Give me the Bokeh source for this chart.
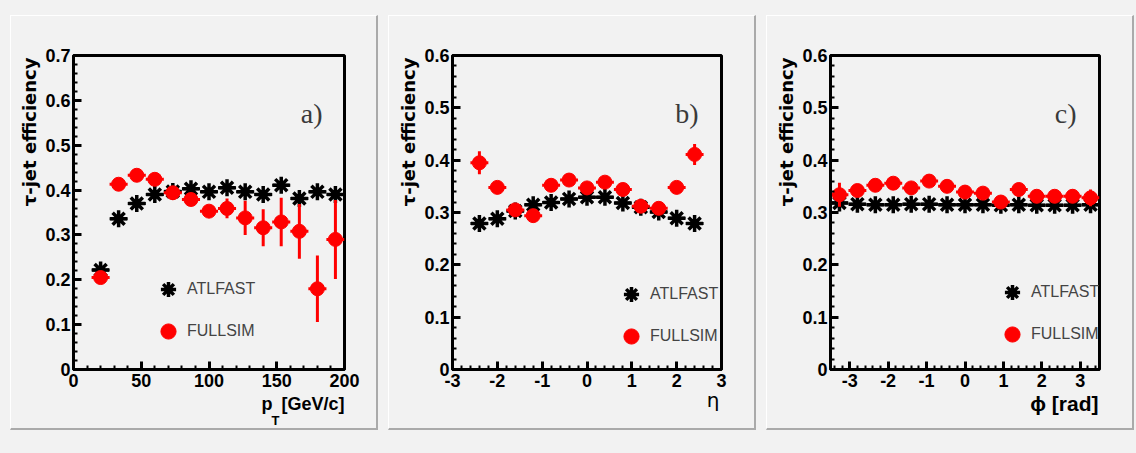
from bokeh.plotting import figure
from bokeh.layouts import row
from bokeh.models import (Range1d, SingleIntervalTicker, CustomJSTickFormatter, Label,
                          Legend, LegendItem, Title)
from bokeh.embed import file_html
from bokeh.resources import INLINE

# ---------------- data ----------------
pt_centers = [20.0, 33.3, 46.7, 60.0, 73.3, 86.7, 100.0, 113.3, 126.7, 140.0, 153.3, 166.7, 180.0, 193.3]
pt_half_bin = 6.67
pt_atlfast = [0.222, 0.336, 0.370, 0.390, 0.397, 0.403, 0.396, 0.405, 0.396, 0.390, 0.411, 0.381, 0.396, 0.390]
pt_fullsim = [0.205, 0.413, 0.433, 0.424, 0.394, 0.379, 0.353, 0.359, 0.338, 0.316, 0.329, 0.308, 0.180, 0.290]
pt_fullsim_err = [0.006, 0.008, 0.008, 0.009, 0.010, 0.011, 0.013, 0.022, 0.038, 0.041, 0.054, 0.061, 0.074, 0.088]

eta_centers = [-2.4, -2.0, -1.6, -1.2, -0.8, -0.4, 0.0, 0.4, 0.8, 1.2, 1.6, 2.0, 2.4]
eta_half_bin = 0.2
eta_atlfast = [0.279, 0.288, 0.303, 0.315, 0.319, 0.326, 0.329, 0.329, 0.318, 0.310, 0.301, 0.289, 0.279]
eta_fullsim = [0.395, 0.348, 0.305, 0.294, 0.352, 0.362, 0.347, 0.358, 0.344, 0.312, 0.308, 0.348, 0.411]
eta_fullsim_err = [0.022, 0.012, 0.010, 0.010, 0.010, 0.010, 0.010, 0.010, 0.010, 0.010, 0.010, 0.012, 0.020]

phi_centers = [-3.267, -2.8, -2.333, -1.867, -1.4, -0.933, -0.467, 0.0, 0.467, 0.933, 1.4, 1.867, 2.333, 2.8, 3.267]
phi_half_bin = 0.233
phi_atlfast = [0.318, 0.316, 0.315, 0.315, 0.316, 0.316, 0.315, 0.315, 0.315, 0.314, 0.315, 0.314, 0.314, 0.314, 0.315]
phi_fullsim = [0.334, 0.342, 0.352, 0.356, 0.347, 0.360, 0.350, 0.339, 0.337, 0.320, 0.344, 0.331, 0.331, 0.331, 0.328]
phi_fullsim_err = [0.023, 0.012, 0.011, 0.011, 0.011, 0.011, 0.011, 0.011, 0.011, 0.011, 0.012, 0.012, 0.012, 0.013, 0.016]

series_names = ["ATLFAST", "FULLSIM"]
panel_tags = ["a)", "b)", "c)"]
y_title = "τ-jet efficiency"

BG = "#f2f2f2"
SANS = "Liberation Sans"
SERIF = "Liberation Serif"
RED = "#ff0000"


def make_panel(centers, half, atl, full, full_err, xr, yr, x_int, tag, legend_xy, mb_left, mb_right, tag_x):
    p = figure(width=368, height=415, x_range=Range1d(*xr), y_range=Range1d(*yr),
               output_backend="svg", toolbar_location=None,
               min_border_left=mb_left, min_border_right=mb_right,
               min_border_top=39, min_border_bottom=62,
               background_fill_color=BG, border_fill_color=BG)
    p.grid.visible = False
    p.outline_line_color = "black"
    p.outline_line_width = 3

    for ax in (p.xaxis[0], p.yaxis[0]):
        ax.axis_line_width = 3
        ax.major_tick_in = 8
        ax.major_tick_out = 0
        ax.minor_tick_in = 4
        ax.minor_tick_out = 0
        ax.major_tick_line_width = 3
        ax.minor_tick_line_width = 2
        ax.major_label_text_font = SANS
        ax.major_label_text_font_style = "bold"
        ax.major_label_text_font_size = "18px"
        ax.major_label_text_color = "black"
    p.xaxis.ticker = SingleIntervalTicker(interval=x_int, num_minor_ticks=5)
    p.yaxis.ticker = SingleIntervalTicker(interval=0.1, num_minor_ticks=5)
    p.xaxis.formatter = CustomJSTickFormatter(code="return tick.toFixed(0)")
    p.yaxis.formatter = CustomJSTickFormatter(
        code="return Math.abs(tick) < 1e-9 ? '0' : tick.toFixed(1)")
    p.xaxis.major_label_standoff = 4
    p.yaxis.major_label_standoff = 3

    # y-axis title, top aligned like ROOT
    p.add_layout(Title(text=y_title, align="right", offset=2, standoff=6,
                       text_font="DejaVu Sans", text_font_style="bold",
                       text_font_size="18px", text_color="black"), "left")

    xl = [c - half for c in centers]
    xh = [c + half for c in centers]
    lo = [v - e for v, e in zip(full, full_err)]
    hi = [v + e for v, e in zip(full, full_err)]

    # ATLFAST
    p.segment(x0=xl, x1=xh, y0=atl, y1=atl, line_color="black", line_width=3)
    atl_r = p.scatter(x=centers, y=atl, marker="asterisk", size=17, line_color="black", line_width=3.5)
    # FULLSIM
    p.segment(x0=xl, x1=xh, y0=full, y1=full, line_color=RED, line_width=3)
    p.segment(x0=centers, x1=centers, y0=lo, y1=hi, line_color=RED, line_width=3)
    full_r = p.scatter(x=centers, y=full, marker="circle", size=14, fill_color=RED, line_color=RED)

    legend = Legend(items=[LegendItem(label=series_names[0], renderers=[atl_r]),
                           LegendItem(label=series_names[1], renderers=[full_r])],
                    location=legend_xy, glyph_width=38, glyph_height=38, spacing=4,
                    padding=0, margin=0, label_standoff=-13,
                    background_fill_alpha=0, border_line_alpha=0,
                    label_text_font=SANS, label_text_font_size="16px")
    p.add_layout(legend)

    p.add_layout(Label(x=tag_x, y=256, x_units="screen", y_units="screen", text=tag,
                       text_font=SERIF, text_font_size="28px", text_color="#3a3a3a",
                       text_align="right", text_baseline="middle"))
    return p


p1 = make_panel(pt_centers, pt_half_bin, pt_atlfast, pt_fullsim, pt_fullsim_err,
                (0, 200), (0, 0.70001), 50, panel_tags[0], (76, 19), 62, 35, 249)
p2 = make_panel(eta_centers, eta_half_bin, eta_atlfast, eta_fullsim, eta_fullsim_err,
                (-3, 3), (0, 0.60001), 1, panel_tags[1], (160, 14), 63, 36, 246)
p3 = make_panel(phi_centers, phi_half_bin, phi_atlfast, phi_fullsim, phi_fullsim_err,
                (-3.5, 3.5), (0, 0.60001), 1, panel_tags[2], (163, 16), 63, 36, 246)

# x-axis titles (right aligned like ROOT)
p1.add_layout(Title(text="p\u2002[GeV/c]", align="right", offset=0, standoff=4,
                    text_font=SANS, text_font_style="bold", text_font_size="18px",
                    text_color="black"), "below")
p1.add_layout(Title(text="T", align="right", offset=65, standoff=-10,
                    text_font=SANS, text_font_style="bold", text_font_size="13px",
                    text_color="black"), "below")
p2.add_layout(Title(text="η", align="right", offset=2, standoff=-7,
                    text_font="DejaVu Sans", text_font_style="normal", text_font_size="20px",
                    text_color="black"), "below")
p3.add_layout(Title(text="ϕ [rad]", align="right", offset=1, standoff=0,
                    text_font=SANS, text_font_style="bold", text_font_size="21px",
                    text_color="black"), "below")

for p in (p1, p2, p3):
    p.styles = {"border-style": "solid", "border-width": "1px 2px 2px 1px",
                "border-color": "#ffffff #aaaaaa #aaaaaa #ffffff"}

layout = row(p1, p2, p3, spacing=10)
layout.margin = (15, 0, 0, 10)

html = file_html(layout, INLINE)
html = html.replace("</head>", "<style>html,body{background:%s;}</style></head>" % BG, 1)
open("out.html", "w").write(html)
